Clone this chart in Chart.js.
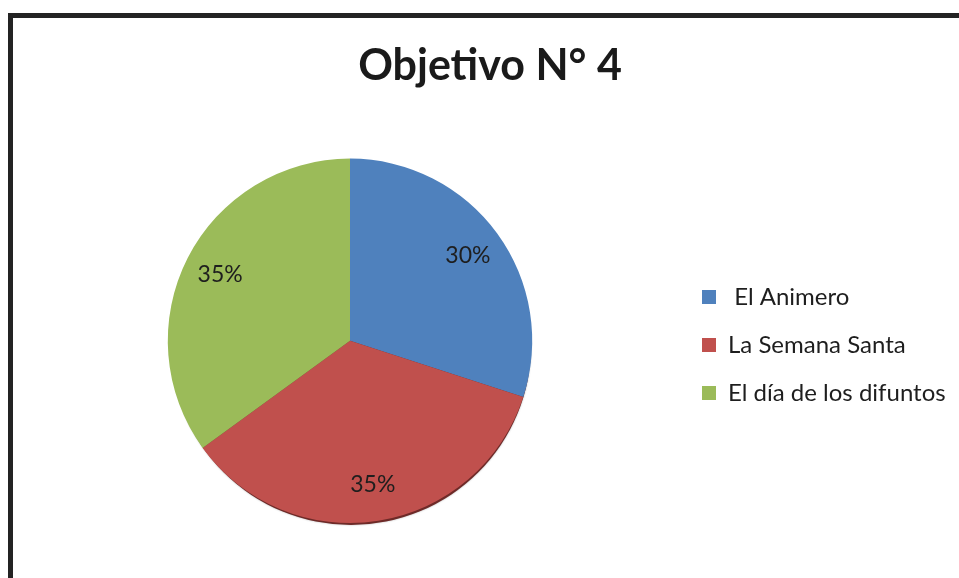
<!DOCTYPE html>
<html>
<head>
<meta charset="utf-8">
<script src="https://cdn.jsdelivr.net/npm/chart.js@4/dist/chart.umd.min.js"></script>
<style>
    html, body { margin: 0; padding: 0; background: #fff; overflow: hidden; }
    #frame {
        position: absolute; left: 8px; top: 13px;
        width: 1000px; height: 620px;
        border: 5px solid #232323;
    }
    #wrap { position: absolute; left: 0; top: 0; width: 958px; height: 578px; }
</style>
</head>
<body>
<div id="frame"></div>
<div id="wrap"><canvas id="pieChart"></canvas></div>
<script>
const categories = [" El Animero", "La Semana Santa", "El día de los difuntos"];
const values = [30, 35, 35];
const colors = ["#4F81BD", "#C0504D", "#9BBB59"];
const chartTitle = "Objetivo N° 4";

// percentage labels inside each slice
const sliceLabels = {
    id: "sliceLabels",
    afterDatasetsDraw(chart) {
        const { ctx } = chart;
        const meta = chart.getDatasetMeta(0);
        const total = values.reduce((a, b) => a + b, 0);
        ctx.save();
        ctx.font = "23px Lato";
        ctx.fillStyle = "#1e1e1e";
        ctx.textAlign = "center";
        ctx.textBaseline = "middle";
        meta.data.forEach((arc, i) => {
            const mid = (arc.startAngle + arc.endAngle) / 2;
            const r = arc.outerRadius * 0.8;
            const x = arc.x + Math.cos(mid) * r;
            const y = arc.y + Math.sin(mid) * r;
            ctx.fillText(Math.round(values[i] / total * 100) + "%", x, y);
        });
        ctx.restore();
    }
};

// soft dark rim under the pie
const pieShadow = {
    id: "pieShadow",
    beforeDatasetsDraw(chart) {
        const arc = chart.getDatasetMeta(0).data[0];
        if (!arc) return;
        const { ctx } = chart;
        ctx.save();
        ctx.fillStyle = "#6e2a28";
        ctx.shadowColor = "rgba(0,0,0,0.3)";
        ctx.shadowBlur = 2;
        ctx.beginPath();
        ctx.arc(arc.x + 1, arc.y + 4, arc.outerRadius - 2, 0, Math.PI * 2);
        ctx.fill();
        ctx.restore();
    }
};

// keep the legend box a fixed width so the pie sits left of centre
const legendWidth = {
    id: "legendWidth",
    afterInit(chart) {
        const legend = chart.legend;
        const fit = legend.fit;
        legend.fit = function () {
            fit.call(this);
            this.width = 280;
        };
    }
};

new Chart(document.getElementById("pieChart"), {
    type: "pie",
    data: {
        labels: categories,
        datasets: [{
            data: values,
            backgroundColor: colors,
            borderWidth: 0
        }]
    },
    options: {
        responsive: true,
        maintainAspectRatio: false,
        animation: false,
        layout: { padding: { left: 22, right: 0, top: 0, bottom: 55 } },
        plugins: {
            title: {
                display: true,
                text: chartTitle,
                color: "#1a1a1a",
                font: { family: "Lato", size: 43, weight: "bold" },
                padding: { top: 40, bottom: 67 }
            },
            legend: {
                position: "right",
                align: "start",
                title: {
                    display: true,
                    text: " ",
                    font: { size: 10 },
                    padding: { top: 249, bottom: 0 }
                },
                labels: {
                    color: "#1e1e1e",
                    font: { family: "Lato", size: 24 },
                    boxWidth: 14,
                    boxHeight: 14,
                    padding: 24
                }
            },
            tooltip: { enabled: false }
        }
    },
    plugins: [legendWidth, pieShadow, sliceLabels]
});
</script>
</body>
</html>
